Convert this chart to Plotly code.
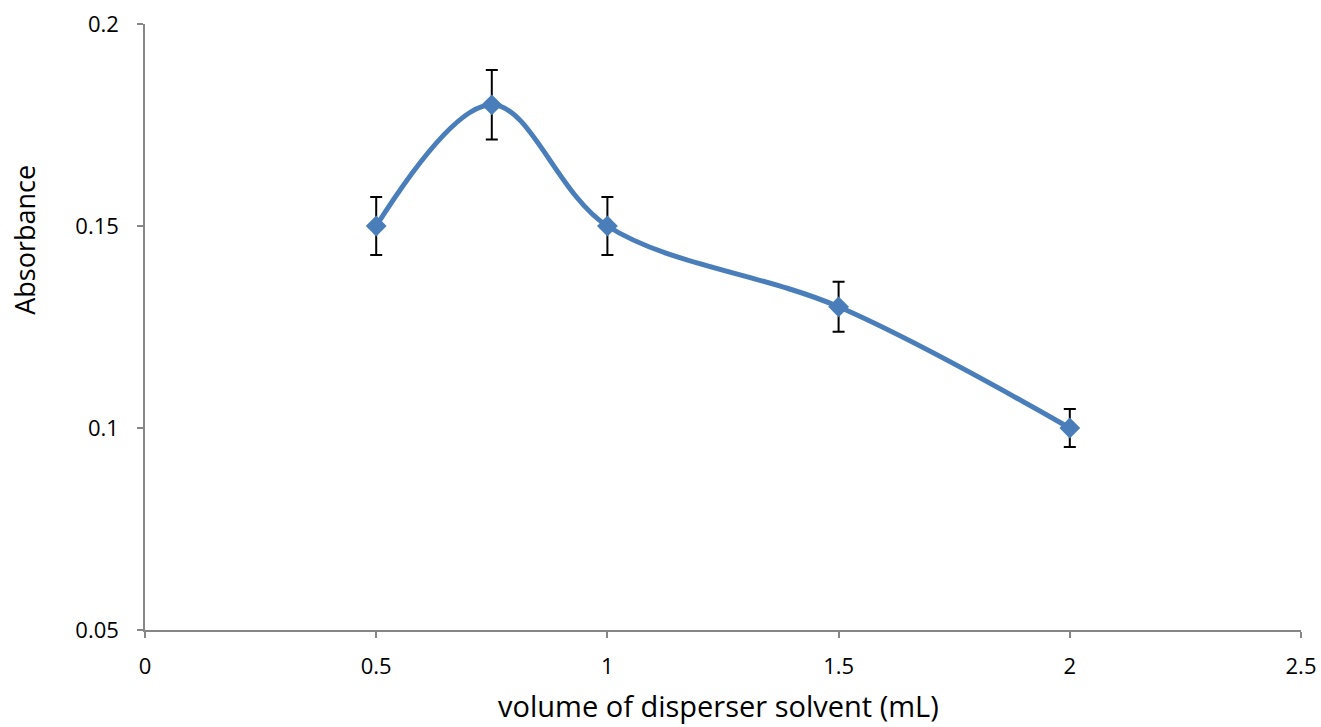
import plotly.graph_objects as go

volume = [0.5, 0.75, 1.0, 1.5, 2.0]
absorbance = [0.15, 0.18, 0.15, 0.13, 0.10]
error = [0.0072, 0.0086, 0.0072, 0.0062, 0.0047]

x_ticks = [0, 0.5, 1, 1.5, 2, 2.5]
x_labels = ["0", "0.5", "1", "1.5", "2", "2.5"]
y_ticks = [0.05, 0.1, 0.15, 0.2]
y_labels = ["0.05", "0.1", "0.15", "0.2"]

FONT = "Open Sans, Liberation Sans, sans-serif"

fig = go.Figure()
fig.add_trace(go.Scatter(
    x=volume, y=absorbance,
    mode="lines+markers",
    line=dict(color="#4a7ebb", width=5, shape="spline", smoothing=1.0),
    marker=dict(symbol="diamond", size=16, color="#4a7ebb"),
    error_y=dict(type="data", array=error, visible=True, color="black", thickness=2, width=6),
    showlegend=False,
    cliponaxis=False,
))

axis_common = dict(
    showgrid=False, zeroline=False, showline=True, linecolor="#868686", linewidth=1.5,
    ticks="outside", tickcolor="#868686", ticklen=6, tickwidth=1.5, automargin=False,
    ticklabeloverflow="allow",
    tickfont=dict(family=FONT, size=22, color="black"),
)

fig.update_layout(
    width=1321, height=727,
    margin=dict(l=145, r=20, t=24, b=97),
    paper_bgcolor="white", plot_bgcolor="white",
    xaxis=dict(range=[0, 2.5], tickvals=x_ticks, ticktext=x_labels,
               ticklabelstandoff=10, **axis_common),
    yaxis=dict(range=[0.05, 0.2], tickvals=y_ticks, ticktext=y_labels,
               ticklabelstandoff=14, **axis_common),
    annotations=[
        dict(text="volume of disperser solvent (mL)", xref="paper", yref="paper",
             x=0.4957, y=-0.1254, xanchor="center", yanchor="middle", showarrow=False,
             font=dict(family=FONT, size=29, color="black")),
        dict(text="Absorbance", xref="paper", yref="paper", textangle=-90,
             x=-0.1038, y=0.644, xanchor="center", yanchor="middle", showarrow=False,
             font=dict(family=FONT, size=27, color="black")),
    ],
)

fig.write_html("out.html", config={"displayModeBar": False},
               post_script="document.body.style.margin='0';document.body.style.overflow='hidden';")
